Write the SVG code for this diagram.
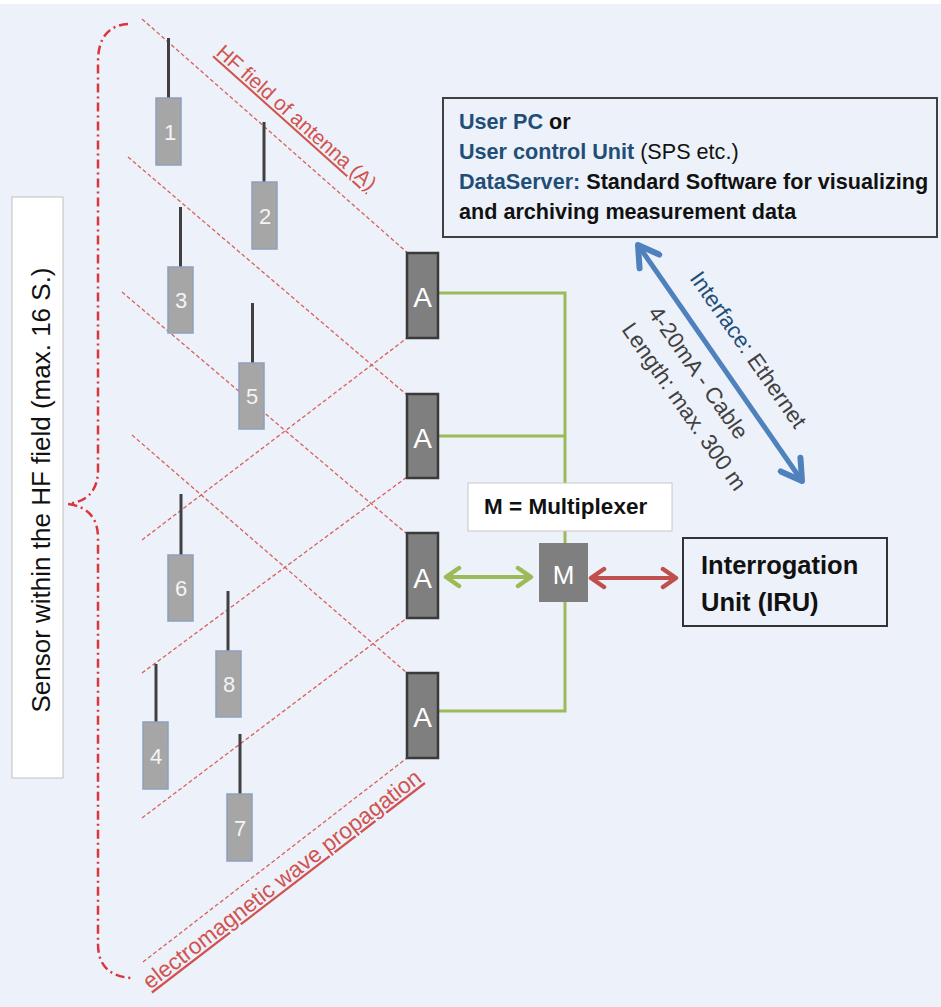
<svg xmlns="http://www.w3.org/2000/svg" width="941" height="1007" viewBox="0 0 941 1007">
<defs>
<style>
.t{font-family:"Liberation Sans",Arial,sans-serif}
.field{stroke:#d9605c;stroke-width:1.3;stroke-dasharray:4 2.5;fill:none}
.sensor rect{fill:#a6a6a6;stroke:#8da0bd;stroke-width:1.5}
.sensor line{stroke:#404040;stroke-width:3}
.sensor text{font-family:"Liberation Sans",Arial,sans-serif;font-size:22px;fill:#f4f4f4;text-anchor:middle}
.ant rect{fill:#7f7f7f;stroke:#3a3a3a;stroke-width:2.5}
.ant text{font-family:"Liberation Sans",Arial,sans-serif;font-size:28px;fill:#ffffff;text-anchor:middle}
.red{fill:#d0534f;text-decoration:underline}
.green{stroke:#9bbb59;stroke-width:3;fill:none}
.blue{fill:#1f4e79;font-weight:bold}
.blk{fill:#111111;font-weight:bold}
.info{fill:#404040;font-size:22.5px}
</style>
<marker id="blueHead" viewBox="0 0 30 30" refX="26" refY="15" markerWidth="30" markerHeight="30" markerUnits="userSpaceOnUse" orient="auto-start-reverse"><path d="M6,3 L26,15 L6,27" fill="none" stroke="#4f81bd" stroke-width="6" stroke-linecap="round" stroke-linejoin="round"/></marker>
<marker id="greenHead" viewBox="0 0 20 24" refX="17" refY="12" markerWidth="20" markerHeight="24" markerUnits="userSpaceOnUse" orient="auto-start-reverse"><path d="M4,3 L17,12 L4,21" fill="none" stroke="#9bbb59" stroke-width="4.5" stroke-linecap="round" stroke-linejoin="round"/></marker>
<marker id="redHead" viewBox="0 0 20 24" refX="17" refY="12" markerWidth="20" markerHeight="24" markerUnits="userSpaceOnUse" orient="auto-start-reverse"><path d="M4,3 L17,12 L4,21" fill="none" stroke="#c0504d" stroke-width="4.5" stroke-linecap="round" stroke-linejoin="round"/></marker>
</defs>

<rect x="0" y="0" width="941" height="1007" fill="#ffffff"/>
<rect x="0" y="4" width="941" height="1003" fill="#edf1f9"/>

<!-- HF field lines -->
<g id="field-lines">
<line class="field" x1="142" y1="19" x2="410" y2="255"/>
<line class="field" x1="128" y1="157" x2="407" y2="395"/>
<line class="field" x1="122" y1="292" x2="407" y2="534"/>
<line class="field" x1="132" y1="435" x2="407" y2="673"/>
<line class="field" x1="142" y1="540" x2="407" y2="338"/>
<line class="field" x1="142" y1="673" x2="407" y2="477"/>
<line class="field" x1="142" y1="818" x2="407" y2="618"/>
<line class="field" x1="143" y1="962" x2="407" y2="758"/>
</g>

<!-- brace -->
<g id="brace">
<path d="M128,24 Q98,26 98,62 L98,470 Q98,500 68,504 Q98,508 98,538 L98,944 Q98,976 132,978" fill="none" stroke="#d9363e" stroke-width="2.5" stroke-dasharray="9 4 2 4"/>
</g>

<g id="label-sensors">
<rect x="12" y="197" width="51" height="581" fill="#ffffff" stroke="#c0c0c0" stroke-width="1"/>
<text class="t" transform="translate(50,490) rotate(-90)" text-anchor="middle" font-size="26" fill="#111111">Sensor within the HF field (max. 16 S.)</text>
</g>

<g id="label-hf" class="t">
<text class="red" transform="translate(215,54) rotate(41.8)" font-size="20.5">HF field of antenna (A)</text>
</g>
<g id="label-em" class="t">
<text class="red" transform="translate(150,990) rotate(-37.5)" font-size="22.6">electromagnetic wave propagation</text>
</g>

<!-- sensors -->
<g id="sensor-1" class="sensor"><line x1="168.5" y1="38" x2="168.5" y2="98"/><rect x="156" y="98" width="25" height="67"/><text x="170" y="140">1</text></g>
<g id="sensor-2" class="sensor"><line x1="264" y1="122" x2="264" y2="182"/><rect x="252" y="182" width="25" height="67"/><text x="265" y="224">2</text></g>
<g id="sensor-3" class="sensor"><line x1="180.5" y1="207" x2="180.5" y2="267"/><rect x="168" y="267" width="25" height="66"/><text x="181" y="308">3</text></g>
<g id="sensor-5" class="sensor"><line x1="252.5" y1="303" x2="252.5" y2="363"/><rect x="239" y="363" width="25" height="66"/><text x="252" y="404">5</text></g>
<g id="sensor-6" class="sensor"><line x1="181" y1="494" x2="181" y2="555"/><rect x="168" y="555" width="25" height="66"/><text x="181" y="596">6</text></g>
<g id="sensor-8" class="sensor"><line x1="228" y1="591" x2="228" y2="651"/><rect x="216" y="651" width="25" height="66"/><text x="229" y="692">8</text></g>
<g id="sensor-4" class="sensor"><line x1="156" y1="664" x2="156" y2="722"/><rect x="143" y="722" width="25" height="67"/><text x="156" y="764">4</text></g>
<g id="sensor-7" class="sensor"><line x1="240" y1="734" x2="240" y2="794"/><rect x="227" y="794" width="25" height="67"/><text x="240" y="836">7</text></g>

<!-- connectors -->
<g id="connectors">
<path class="green" d="M438,293 H565 V711 H438"/>
<path class="green" d="M438,436 H565"/>
<line x1="446" y1="577" x2="531" y2="577" stroke="#9bbb59" stroke-width="4" marker-start="url(#greenHead)" marker-end="url(#greenHead)"/>
<line x1="591" y1="578" x2="676" y2="578" stroke="#c0504d" stroke-width="4" marker-start="url(#redHead)" marker-end="url(#redHead)"/>
<line x1="638" y1="245" x2="802" y2="481" stroke="#4f81bd" stroke-width="5" marker-start="url(#blueHead)" marker-end="url(#blueHead)"/>
</g>

<!-- antennas -->
<g id="antenna-1" class="ant"><rect x="407" y="253" width="31" height="85"/><text x="422.5" y="307">A</text></g>
<g id="antenna-2" class="ant"><rect x="407" y="394" width="31" height="84"/><text x="422.5" y="448">A</text></g>
<g id="antenna-3" class="ant"><rect x="407" y="533" width="31" height="85"/><text x="422.5" y="588">A</text></g>
<g id="antenna-4" class="ant"><rect x="407" y="673" width="31" height="85"/><text x="422.5" y="727">A</text></g>

<!-- multiplexer -->
<g id="mux-label">
<rect x="468" y="483" width="204" height="48" fill="#ffffff" stroke="#c8c8c8" stroke-width="1"/>
<text class="t" x="484" y="514" font-size="22.5" font-weight="bold" fill="#111111">M = Multiplexer</text>
</g>
<g id="multiplexer">
<rect x="539" y="543" width="49" height="59" fill="#7f7f7f"/>
<text class="t" x="563.5" y="584" font-size="26" fill="#ffffff" text-anchor="middle">M</text>
</g>

<!-- IRU -->
<g id="iru">
<rect x="683" y="538" width="204" height="88" fill="none" stroke="#333333" stroke-width="2"/>
<text class="t" x="701" y="574" font-size="25.5" font-weight="bold" fill="#111111">Interrogation</text>
<text class="t" x="701" y="611" font-size="25.5" font-weight="bold" fill="#111111">Unit (IRU)</text>
</g>

<!-- User PC box -->
<g id="user-pc" class="t" font-size="21.6">
<rect x="443" y="98" width="494" height="139" fill="none" stroke="#404040" stroke-width="2"/>
<text x="459" y="129"><tspan class="blue">User PC</tspan><tspan class="blk"> or</tspan></text>
<text x="459" y="159"><tspan class="blue">User control Unit</tspan><tspan fill="#111111"> (SPS etc.)</tspan></text>
<text x="459" y="189"><tspan class="blue">DataServer:</tspan><tspan class="blk"> Standard Software for visualizing</tspan></text>
<text x="459" y="219" class="blk">and archiving measurement data</text>
</g>

<!-- interface labels -->
<g id="interface-labels" class="t">
<text class="info" transform="translate(742,354) rotate(55)" text-anchor="middle"><tspan fill="#1f4e79">Interface:</tspan> Ethernet</text>
<text class="info" transform="translate(692,377) rotate(55)" text-anchor="middle">4-20mA - Cable</text>
<text class="info" transform="translate(678,411) rotate(55)" text-anchor="middle">Length: max. 300 m</text>
</g>
</svg>
